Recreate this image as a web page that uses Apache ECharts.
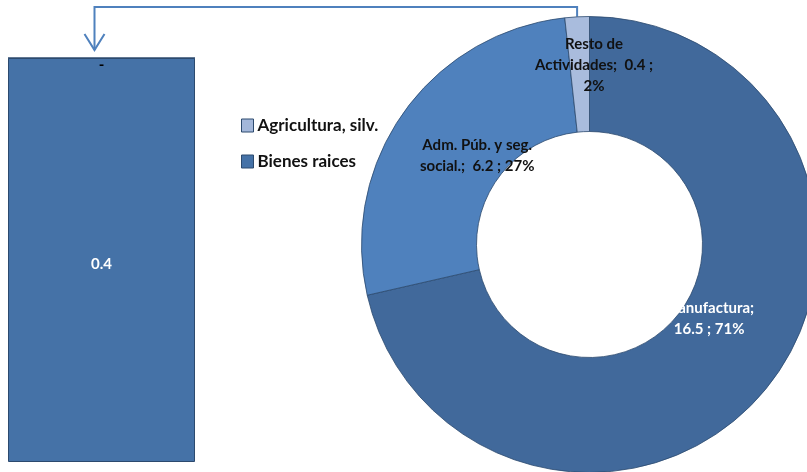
<!DOCTYPE html>
<html><head><meta charset="utf-8">
<script src="https://cdn.jsdelivr.net/npm/echarts@6/dist/echarts.min.js"></script>
<style>html,body{margin:0;padding:0;background:#fff}#c{width:807px;height:472px}</style>
</head><body><div id="c"></div>
<script>
// Bar (breakdown of "Resto de Actividades")
const barCategories = ['Resto'];
const agriculturaValues = [0];
const bienesRaicesValues = [0.4];
// Donut
const pieNames = ['Manufactura', 'Adm. Púb. y seg. social.', 'Resto de Actividades'];
const pieValues = [16.5, 6.2, 0.4];

const FONT = 'Lato';
const chart = echarts.init(document.getElementById('c'), null, {renderer: 'canvas'});
const cx = 589.5, cy = 244.5, rIn = 113, rOut = 228;
const gridLeft = 8, gridWidth = 187, gridTop = 58;
const labelShift = [[-16, -34], [29, 12], [14, -6]];
const labelColors = ['#fff', '#111', '#111'];
const pieBreaks = {
  'Manufactura': (p) => p.name + ';\n' + p.value + ' ; ' + p.percent + '%',
  'Adm. Púb. y seg. social.': (p) => 'Adm. Púb. y seg.\nsocial.;  ' + p.value + ' ; ' + p.percent + '%',
  'Resto de Actividades': (p) => 'Resto de\nActividades;  ' + p.value + ' ;\n' + p.percent + '%'
};

// Connector from the "Resto" slice to the bar
const total = pieValues.reduce((a, b) => a + b, 0);
const restoStart = (pieValues[0] + pieValues[1]) / total;
const midFrac = (restoStart + 1) / 2;
const ang = Math.PI / 2 - midFrac * 2 * Math.PI;
const sx = cx + rOut * Math.cos(ang);
const sy = cy - rOut * Math.sin(ang);
const tipX = gridLeft + gridWidth / 2 - 7, tipY = gridTop - 8, topY = 7;

chart.setOption({
  animation: false,
  textStyle: {fontFamily: FONT},
  legend: {
    data: ['Agricultura, silv.', 'Bienes raices'],
    orient: 'vertical', left: 236, top: 112, itemGap: 19,
    itemWidth: 12, itemHeight: 13, icon: 'rect',
    textStyle: {fontFamily: FONT, fontWeight: 'bold', fontSize: 17, color: '#111', padding: [0, 0, 0, -1]},
    itemStyle: {borderColor: '#2c4a6e', borderWidth: 1}
  },
  grid: {left: gridLeft, width: gridWidth, top: gridTop, bottom: 10, containLabel: false},
  xAxis: {type: 'category', data: barCategories, show: false},
  yAxis: {type: 'value', min: 0, max: 0.4, show: false},
  series: [
    {
      name: 'Bienes raices', type: 'bar', stack: 's', data: bienesRaicesValues,
      barWidth: '100%',
      itemStyle: {color: '#4572A7', borderColor: '#2c4a6e', borderWidth: 1},
      label: {show: true, position: 'inside', color: '#fff', fontWeight: 'bold', fontSize: 15, fontFamily: FONT, offset: [0, 4]}
    },
    {
      name: 'Agricultura, silv.', type: 'bar', stack: 's', data: agriculturaValues,
      barWidth: '100%',
      itemStyle: {color: '#A3B7DA', borderColor: '#2c4a6e', borderWidth: 1},
      label: {show: true, position: 'insideTop', distance: 0, color: '#000', fontWeight: 'bold', fontSize: 15, fontFamily: FONT,
        formatter: (p) => p.value === 0 ? '-' : p.value}
    },
    {
      name: 'pie', type: 'pie', center: [cx, cy], radius: [rIn, rOut],
      startAngle: 90, clockwise: true, percentPrecision: 0,
      data: pieNames.map((n, i) => ({name: n, value: pieValues[i], label: {color: labelColors[i]}})),
      color: ['#41699B', '#4F81BD', '#A9BCDD'],
      itemStyle: {borderColor: '#2c4a6e', borderWidth: 0.8},
      label: {
        show: true, position: 'inside', fontFamily: FONT, fontWeight: 'bold', fontSize: 15, lineHeight: 21,
        align: 'center',
        formatter: (p) => pieBreaks[p.name](p)
      },
      labelLayout: (params) => ({dx: labelShift[params.dataIndex][0], dy: labelShift[params.dataIndex][1]}),
      emphasis: {disabled: true},
      legendHoverLink: false
    }
  ],
  graphic: [
    {type: 'polyline', shape: {points: [[sx, sy], [sx, topY], [tipX, topY], [tipX, tipY]]},
      style: {stroke: '#4F81BD', lineWidth: 2, fill: null}, silent: true},
    {type: 'polyline', shape: {points: [[tipX - 10, tipY - 16], [tipX, tipY], [tipX + 10, tipY - 16]]},
      style: {stroke: '#4F81BD', lineWidth: 2, fill: null}, silent: true}
  ]
});
</script></body></html>
